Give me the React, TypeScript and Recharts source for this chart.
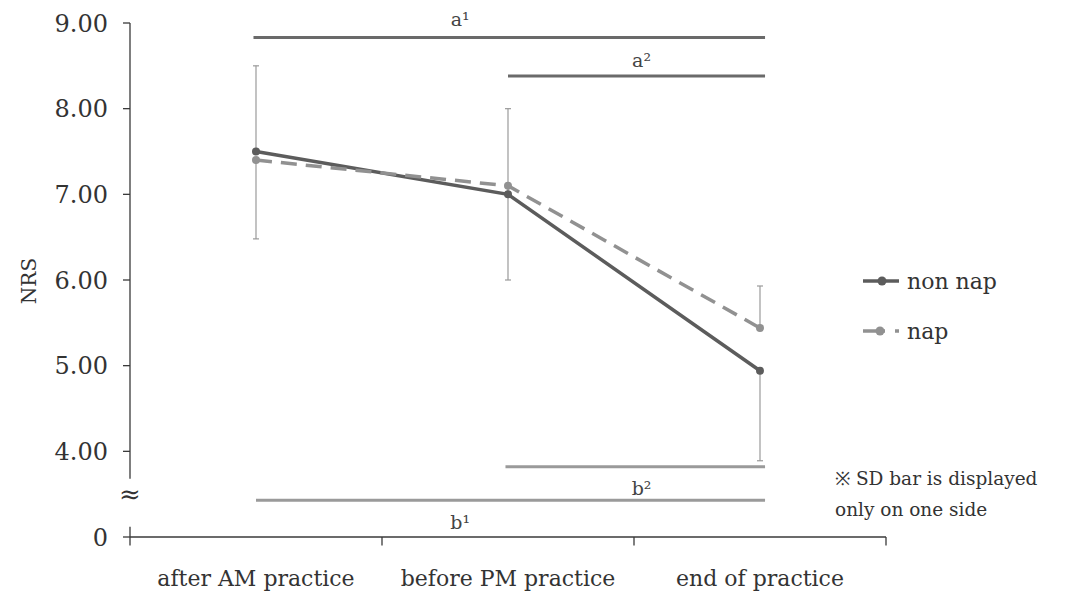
import {
  ErrorBar,
  Legend,
  Line,
  LineChart,
  ReferenceDot,
  ReferenceLine,
  XAxis,
  YAxis,
} from "recharts";

const categories = ["after AM practice", "before PM practice", "end of practice"];
const nonNap = [7.5, 7.0, 4.94];
const nap = [7.4, 7.1, 5.44];
// SD shown on one side only: [down, up]
const nonNapSd = [[0, 1.0], [0, 1.0], [1.05, 0]];
const napSd = [[0.92, 0], [1.1, 0], [0, 0.49]];
const yTicks = [3, 4, 5, 6, 7, 8, 9];

// significance brackets, x in category units (0..3)
const brackets = [
  { label: "a¹", from: 0.49, to: 2.52, y: 8.83, lx: 1.31, ly: 9.04, color: "#6a6a6a" },
  { label: "a²", from: 1.5, to: 2.52, y: 8.38, lx: 2.03, ly: 8.57, color: "#6a6a6a" },
  { label: "b²", from: 1.49, to: 2.52, y: 3.82, lx: 2.03, ly: 3.57, color: "#9a9a9a" },
  { label: "b¹", from: 0.5, to: 2.52, y: 3.43, lx: 1.31, ly: 3.17, color: "#9a9a9a" },
];

// each category sits in the middle of its slot
const data = categories.map((name, i) => ({
  name,
  pos: i + 0.5,
  nonNap: nonNap[i],
  nap: nap[i],
  nonNapSd: nonNapSd[i],
  napSd: napSd[i],
}));

const font = "DejaVu Serif";
const axisColor = "#3a3a3a";

const LegendBox = () => (
  <div style={{ fontFamily: font, color: "#333" }}>
    <div style={{ display: "flex", alignItems: "center", height: 26, paddingLeft: 26 }}>
      <svg width={46} height={26}>
        <line x1={2} y1={13} x2={38} y2={13} stroke="#5c5c5c" strokeWidth={3.5} />
        <circle cx={21} cy={13} r={4.5} fill="#5c5c5c" />
      </svg>
      <span style={{ fontSize: 22 }}>non nap</span>
    </div>
    <div style={{ display: "flex", alignItems: "center", height: 26, marginTop: 24, paddingLeft: 26 }}>
      <svg width={46} height={26}>
        <line x1={2} y1={13} x2={38} y2={13} stroke="#919191" strokeWidth={3.5} strokeDasharray="22 10" />
        <circle cx={19} cy={13} r={4.5} fill="#919191" />
      </svg>
      <span style={{ fontSize: 22 }}>nap</span>
    </div>
    <div style={{ marginTop: 119, fontSize: 18.5, lineHeight: "31px" }}>
      ※ SD bar is displayed
      <br />
      only on one side
    </div>
  </div>
);

const App = () => {
  return (
    <LineChart
      width={1061}
      height={586}
      data={data}
      margin={{ top: 15, right: 183, left: 12, bottom: 0 }}
    >
      <XAxis
        dataKey="pos"
        type="number"
        domain={[0, 3]}
        allowDataOverflow
        ticks={[0.5, 1.5, 2.5]}
        tickFormatter={(v: number) => categories[Math.floor(v)]}
        height={57}
        axisLine={{ stroke: axisColor, strokeWidth: 1.3 }}
        tickLine={false}
        tickMargin={27}
        tick={{ fill: "#333", fontSize: 22, fontFamily: font }}
      />
      <YAxis
        domain={[3, 9]}
        ticks={yTicks}
        width={110}
        axisLine={false}
        tickSize={7}
        tickMargin={15}
        tickLine={{ stroke: axisColor, strokeWidth: 1.3 }}
        tickFormatter={(v: number) => (v === 3 ? "0" : v.toFixed(2))}
        tick={{ fill: "#333", fontSize: 24, fontFamily: font }}
        label={{
          content: () => (
            <text
              x={22}
              y={273}
              transform="rotate(-90 22 273)"
              textAnchor="middle"
              dominantBaseline="middle"
              fill="#333"
              fontSize={20}
              fontFamily={font}
            >
              NRS
            </text>
          ),
        }}
      />

      {/* broken y axis line */}
      <ReferenceLine
        ifOverflow="visible"
        segment={[{ x: 0, y: 9 }, { x: 0, y: 3.68 }]}
        stroke={axisColor}
        strokeWidth={1.3}
      />
      <ReferenceLine
        ifOverflow="visible"
        segment={[{ x: 0, y: 3.12 }, { x: 0, y: 2.9 }]}
        stroke={axisColor}
        strokeWidth={1.3}
      />
      {[1, 2, 3].map((t) => (
        <ReferenceLine
          key={t}
          ifOverflow="visible"
          segment={[{ x: t, y: 3 }, { x: t, y: 2.9 }]}
          stroke={axisColor}
          strokeWidth={1.3}
        />
      ))}
      <ReferenceDot
        x={0}
        y={3.5}
        r={1}
        fill="none"
        stroke="none"
        ifOverflow="visible"
        label={{ value: "≈", position: "center", fontSize: 26, fill: "#333", fontFamily: font }}
      />

      {brackets.map((b) => (
        <ReferenceLine
          key={b.label + "l"}
          ifOverflow="visible"
          segment={[{ x: b.from, y: b.y }, { x: b.to, y: b.y }]}
          stroke={b.color}
          strokeWidth={3}
        />
      ))}
      {brackets.map((b) => (
        <ReferenceDot
          key={b.label + "t"}
          x={b.lx}
          y={b.ly}
          r={1}
          fill="none"
          stroke="none"
          ifOverflow="visible"
          label={{ value: b.label, position: "center", fontSize: 19, fill: "#444", fontFamily: font }}
        />
      ))}

      <Line
        dataKey="nonNap"
        stroke="#5c5c5c"
        strokeWidth={3.5}
        dot={{ r: 4, fill: "#5c5c5c", stroke: "#5c5c5c", strokeWidth: 0 }}
        isAnimationActive={false}
      >
        <ErrorBar dataKey="nonNapSd" width={3} stroke="#9a9a9a" strokeWidth={1.2} direction="y" />
      </Line>
      <Line
        dataKey="nap"
        stroke="#919191"
        strokeWidth={3.5}
        strokeDasharray="16 9"
        dot={{ r: 4, fill: "#919191", stroke: "#919191", strokeWidth: 0 }}
        isAnimationActive={false}
      >
        <ErrorBar dataKey="napSd" width={3} stroke="#9a9a9a" strokeWidth={1.2} direction="y" />
      </Line>
      <Legend
        layout="horizontal"
        verticalAlign="middle"
        align="center"
        wrapperStyle={{ left: 827, top: 260, width: 234 }}
        content={() => <LegendBox />}
      />
    </LineChart>
  );
};

export default App;
